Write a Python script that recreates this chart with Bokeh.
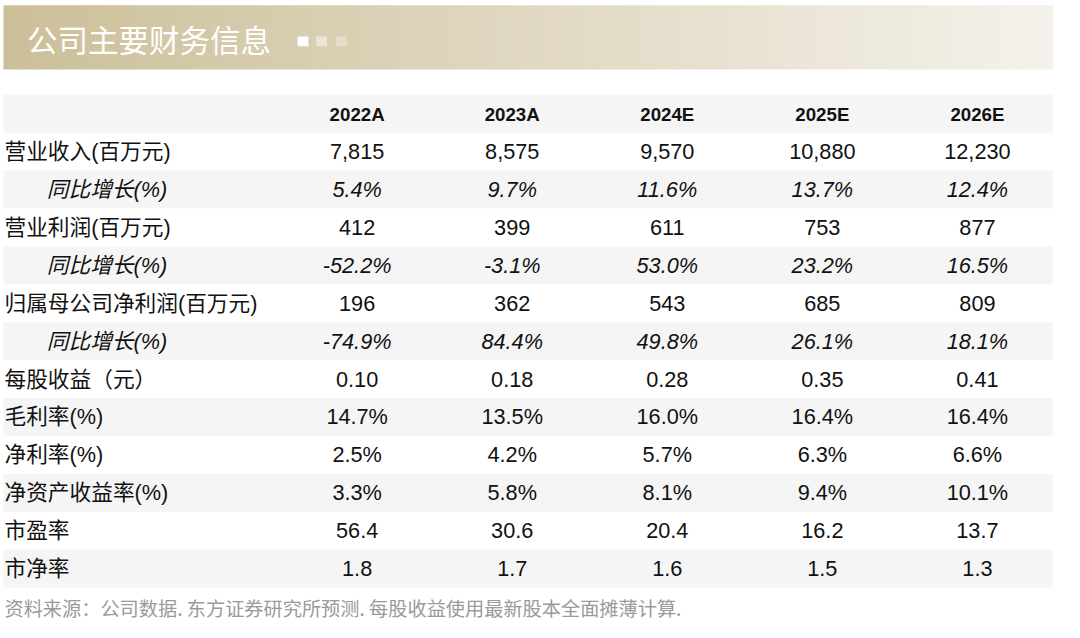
import numpy as np
from bokeh.plotting import figure
from bokeh.models import Range1d
from bokeh.core.properties import value
from bokeh.embed import file_html
from bokeh.resources import INLINE

title = "公司主要财务信息"
footnote = "资料来源：公司数据. 东方证券研究所预测. 每股收益使用最新股本全面摊薄计算."
years = ["2022A", "2023A", "2024E", "2025E", "2026E"]
row_labels = ["营业收入(百万元)", "同比增长(%)", "营业利润(百万元)", "同比增长(%)",
              "归属母公司净利润(百万元)", "同比增长(%)", "每股收益（元）", "毛利率(%)",
              "净利率(%)", "净资产收益率(%)", "市盈率", "市净率"]
row_italic = [False, True, False, True, False, True, False, False, False, False, False, False]
v2022 = ["7,815", "5.4%", "412", "-52.2%", "196", "-74.9%", "0.10", "14.7%", "2.5%", "3.3%", "56.4", "1.8"]
v2023 = ["8,575", "9.7%", "399", "-3.1%", "362", "84.4%", "0.18", "13.5%", "4.2%", "5.8%", "30.6", "1.7"]
v2024 = ["9,570", "11.6%", "611", "53.0%", "543", "49.8%", "0.28", "16.0%", "5.7%", "8.1%", "20.4", "1.6"]
v2025 = ["10,880", "13.7%", "753", "23.2%", "685", "26.1%", "0.35", "16.4%", "6.3%", "9.4%", "16.2", "1.5"]
v2026 = ["12,230", "12.4%", "877", "16.5%", "809", "18.1%", "0.41", "16.4%", "6.6%", "10.1%", "13.7", "1.3"]
columns = [v2022, v2023, v2024, v2025, v2026]

W, H = 1064, 622
RW, RH = 1080, 640
S = W / RW
def fs(px):
    return "%.1fpx" % (px * S)

p = figure(width=W, height=H, output_backend="svg", toolbar_location=None,
           x_range=Range1d(0, RW), y_range=Range1d(RH, 0),
           x_axis_type=None, y_axis_type=None, min_border=0,
           background_fill_color="white", border_fill_color="white")
p.grid.visible = False
p.outline_line_color = None

FONT = "Liberation Sans, Noto Sans CJK SC"

# Banner gradient
n = 160
left, right = 3.0, 1068.0
edges = np.linspace(left, right, n + 1)
c0 = np.array([204, 191, 153])
c1 = np.array([245, 242, 235])
cols = []
for i in range(n):
    t = i / (n - 1)
    c = (c0 * (1 - t) + c1 * t).astype(int)
    cols.append("#%02x%02x%02x" % tuple(c))
p.quad(left=edges[:-1], right=edges[1:] + 0.5, top=5, bottom=71, fill_color=cols, line_color=None)
p.text(x=[27], y=[40], text=[title], text_font=value("Noto Sans CJK SC"), text_font_size=fs(31),
       text_color="white", text_baseline="middle", text_align="left")
# decorative dots
p.rect(x=[307, 326, 346], y=[42, 42, 42], width=11, height=10,
       fill_color=["#ffffff", "#ebe5d5", "#e4ddcc"], line_color=None)

# Table
row_h = 39.0
top0 = 97.0
nrows = len(row_labels) + 1
tops = top0 + np.arange(nrows) * row_h
gray_idx = [i for i in range(nrows) if i % 2 == 0]
p.quad(left=3, right=1068, top=[tops[i] for i in gray_idx], bottom=[tops[i] + row_h for i in gray_idx],
       fill_color="#f5f5f5", line_color=None)

col_x = 362 + np.arange(len(years)) * 157.4
centers = tops + row_h / 2

p.text(x=col_x, y=[centers[0] + 1] * len(years), text=years, text_font=value("Liberation Sans"),
       text_font_size=fs(19), text_font_style="bold", text_color="#111111",
       text_align="center", text_baseline="middle")

for r, lab in enumerate(row_labels):
    cy = centers[r + 1]
    it = row_italic[r]
    p.text(x=[47 if it else 4], y=[cy], text=[lab], text_font=value(FONT), text_font_size=fs(22),
           text_font_style="italic" if it else "normal", text_color="#111111",
           text_align="left", text_baseline="middle")
    p.text(x=col_x, y=[cy] * len(years), text=[c[r] for c in columns], text_font=value(FONT),
           text_font_size=fs(22), text_font_style="italic" if it else "normal", text_color="#111111",
           text_align="center", text_baseline="middle")

p.text(x=[4], y=[625], text=[footnote], text_font=value("Noto Sans CJK SC"), text_font_size=fs(19.5),
       text_color="#9a9a9a", text_align="left", text_baseline="middle")

open("out.html", "w").write(file_html(p, INLINE))
